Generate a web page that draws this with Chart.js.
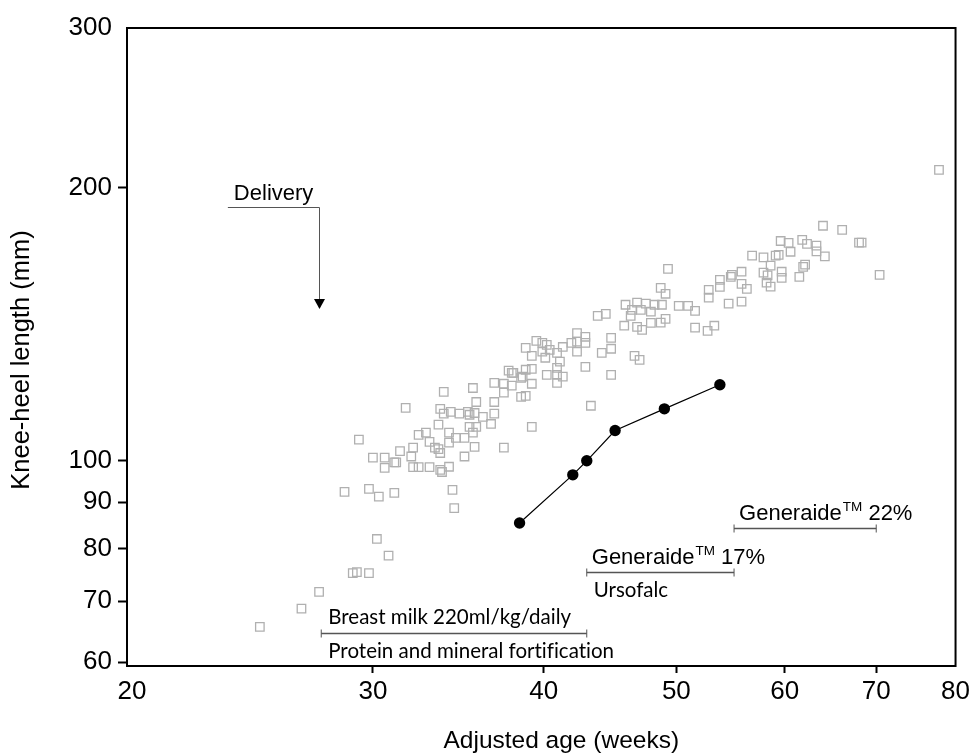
<!DOCTYPE html>
<html>
<head>
<meta charset="utf-8">
<script src="https://cdn.jsdelivr.net/npm/chart.js@4.4.0/dist/chart.umd.min.js"></script>
<style>
  html, body { margin: 0; padding: 0; background: #fff; }
  #wrap { width: 973px; height: 755px; }
</style>
</head>
<body>
<div id="wrap"><canvas id="kneeChart" width="973" height="755"></canvas></div>
<script>
// Axis ticks and titles
const xTickValues = [20, 30, 40, 50, 60, 70, 80];
const yTickValues = [60, 70, 80, 90, 100, 200, 300];
const xTitle = 'Adjusted age (weeks)';
const yTitle = 'Knee-heel length (mm)';

// Patient measurements (black dots)
const patientAge = [38.4, 42.0, 43.0, 45.1, 49.0, 53.8];
const patientLength = [85.4, 96.5, 100.0, 108.0, 114.1, 121.3];

// Reference population (grey squares)
const refAge = [
  24.8, 26.6, 27.4, 29.0, 29.2, 29.8, 30.8, 30.2, 28.6, 29.8,
  30.3, 31.1, 34.3, 34.4, 29.3, 31.7, 33.8, 35.5, 35.7, 30.0,
  30.6, 30.6, 31.1, 31.2, 31.4, 32.0, 32.1, 32.1, 32.4, 33.0,
  32.4, 32.8, 33.0, 33.3, 33.5, 33.6, 33.6, 33.7, 34.1, 33.5,
  33.6, 33.8, 34.2, 34.1, 34.1, 34.5, 35.0, 34.7, 35.2, 35.3,
  35.6, 35.3, 35.7, 35.5, 35.0, 35.6,
  36.1, 36.8, 36.6, 36.8, 36.8, 37.4, 37.4, 37.9, 37.7, 37.9,
  38.0, 37.4, 38.5, 38.8, 38.5, 38.6, 39.2, 38.8, 39.2, 39.2,
  38.8, 39.2, 39.5, 39.9, 39.9, 40.2, 40.4, 40.1, 40.2, 40.9,
  40.9, 41.3, 40.9, 41.1, 40.9, 41.3, 41.9, 42.3, 42.3, 42.3,
  42.9, 42.9, 42.9, 43.3, 43.8, 44.4, 44.1, 44.8, 44.8, 44.8,
  46.6, 47.0,
  77.8, 64.0, 66.1, 68.0, 68.3, 70.4, 59.6, 60.4, 61.8, 62.3,
  63.3, 63.3, 64.2, 56.8, 57.9, 59.1, 59.4, 60.6, 58.6, 57.9,
  58.3, 59.7, 59.7, 61.5, 61.9, 62.1, 58.2, 58.6, 55.8, 54.9,
  54.8, 53.8, 52.8, 52.8, 53.8, 55.8, 56.3, 54.6, 55.8, 51.6,
  51.6, 52.7, 53.3, 49.3, 48.7, 49.1, 48.8, 48.7, 50.2, 51.0,
  45.9, 46.4, 46.8, 47.1, 47.5, 47.9, 48.2, 46.3, 45.8, 46.8,
  47.2, 47.9, 49.1
];
const refLength = [
  65.6, 68.7, 71.7, 75.2, 75.4, 75.2, 78.6, 82.0, 92.4, 93.1,
  91.3, 92.2, 92.9, 88.7, 105.5, 114.4, 119.1, 120.3, 116.1, 100.8,
  100.8, 98.2, 99.6, 99.6, 102.5, 101.1, 103.4, 98.4, 98.4, 98.4,
  106.8, 107.4, 104.9, 103.4, 103.0, 102.0, 97.7, 97.2, 98.5, 109.6,
  114.1, 112.7, 113.2, 107.4, 104.7, 106.0, 106.0, 112.7, 113.2, 112.4,
  112.9, 109.0, 109.0, 107.4, 101.1, 103.6,
  111.8, 112.7, 109.8, 116.1, 121.9, 121.6, 118.9, 121.0, 125.7, 125.0,
  125.0, 103.4, 117.6, 117.9, 123.4, 123.8, 121.6, 126.0, 126.3, 109.0,
  133.2, 130.5, 135.6, 134.9, 131.9, 134.2, 132.5, 129.9, 124.4, 124.4,
  121.9, 123.8, 126.6, 128.6, 131.5, 133.5, 134.9, 138.3, 135.3, 131.9,
  137.0, 134.9, 126.9, 115.0, 144.5, 145.2, 131.5, 136.6, 132.9, 124.4,
  130.5, 129.2,
  209.3, 181.6, 179.7, 174.0, 174.0, 160.3, 174.7, 173.9, 175.2, 173.4,
  172.7, 170.2, 168.0, 168.3, 167.6, 168.3, 168.7, 170.0, 164.1, 161.2,
  160.1, 161.6, 159.1, 159.5, 163.6, 164.5, 157.2, 155.6, 161.6, 160.3,
  159.5, 158.3, 154.3, 151.3, 155.5, 156.7, 154.7, 149.0, 149.8, 146.3,
  140.2, 139.1, 140.9, 162.8, 155.1, 152.8, 148.6, 142.0, 148.2, 148.2,
  148.6, 146.7, 149.4, 146.7, 149.0, 146.0, 148.6, 144.5, 140.9, 140.5,
  139.4, 141.9, 143.4
];

// Feeding phases (bracket from start to end age, drawn at a length level)
const phaseStart = [27.5, 43.0, 55.1];
const phaseEnd = [43.0, 55.1, 70.0];
const phaseLevel = [64.6, 75.4, 84.4];
const phaseTop = ['Breast milk 220ml/kg/daily', 'Generaide', 'Generaide'];
const phaseTopSup = ['', 'TM', 'TM'];
const phaseTopTail = ['', ' 17%', ' 22%'];
const phaseBottom = ['Protein and mineral fortification', 'Ursofalc', ''];

// Delivery marker
const deliveryLabel = 'Delivery';
const deliveryFrom = 23.5;
const deliveryAge = 27.4;
const deliveryLevel = 190.5;
const deliveryTip = 147;

const arial = '"Liberation Sans", Arial, sans-serif';
const calibri = 'Lato, "Open Sans", sans-serif';

// Frame, axis titles, delivery arrow and feeding phase brackets
const annotations = {
  id: 'annotations',
  afterDraw(chart) {
    const { ctx, chartArea: area } = chart;
    const xs = chart.scales.x;
    const ys = chart.scales.y;
    ctx.save();
    ctx.textRendering = 'optimizeSpeed';

    ctx.strokeStyle = '#000';
    ctx.lineWidth = 2;
    ctx.strokeRect(area.left, area.top, area.right - area.left, area.bottom - area.top);

    // axis titles
    ctx.fillStyle = '#000';
    ctx.textBaseline = 'middle';
    ctx.textAlign = 'center';
    ctx.font = '24.5px ' + arial;
    ctx.fillText(xTitle, (area.left + area.right) / 2 + 20, 741);
    ctx.save();
    ctx.translate(22, (area.top + area.bottom) / 2 + 13);
    ctx.rotate(-Math.PI / 2);
    ctx.font = '25.5px ' + arial;
    ctx.fillText(yTitle, 0, 0);
    ctx.restore();
    ctx.textAlign = 'left';

    // Delivery
    const dx0 = xs.getPixelForValue(deliveryFrom);
    const dx = Math.round(xs.getPixelForValue(deliveryAge)) + 0.5;
    const dy = Math.round(ys.getPixelForValue(deliveryLevel)) + 0.5;
    const tip = ys.getPixelForValue(deliveryTip);
    ctx.strokeStyle = '#555';
    ctx.lineWidth = 1;
    ctx.beginPath();
    ctx.moveTo(dx0, dy);
    ctx.lineTo(dx, dy);
    ctx.lineTo(dx, tip - 8);
    ctx.stroke();
    ctx.beginPath();
    ctx.moveTo(dx - 5.5, tip - 10);
    ctx.lineTo(dx + 5.5, tip - 10);
    ctx.lineTo(dx, tip);
    ctx.closePath();
    ctx.fill();
    ctx.font = '22px ' + arial;
    ctx.fillText(deliveryLabel, dx0 + 6, dy - 14);

    // Phases
    phaseStart.forEach((start, i) => {
      const x0 = xs.getPixelForValue(start);
      const x1 = xs.getPixelForValue(phaseEnd[i]);
      const yl = Math.round(ys.getPixelForValue(phaseLevel[i])) + 0.5;

      ctx.strokeStyle = '#555';
      ctx.lineWidth = 1.5;
      ctx.beginPath();
      ctx.moveTo(x0, yl);
      ctx.lineTo(x1, yl);
      ctx.stroke();
      ctx.lineWidth = 1;
      ctx.beginPath();
      ctx.moveTo(x0, yl - 4);
      ctx.lineTo(x0, yl + 4);
      ctx.moveTo(x1, yl - 4);
      ctx.lineTo(x1, yl + 4);
      ctx.stroke();

      if (phaseTopSup[i]) {
        let tx = x0 + 5;
        ctx.font = '22px ' + arial;
        ctx.fillText(phaseTop[i], tx, yl - 15);
        tx += ctx.measureText(phaseTop[i]).width + 1;
        ctx.font = '13.5px ' + arial;
        ctx.fillText(phaseTopSup[i], tx, yl - 21);
        tx += ctx.measureText(phaseTopSup[i]).width;
        ctx.font = '22px ' + arial;
        ctx.fillText(phaseTopTail[i], tx, yl - 15);
      } else {
        ctx.font = '20.5px ' + calibri;
        ctx.fillText(phaseTop[i], x0 + 7, yl - 16);
      }
      if (phaseBottom[i]) {
        ctx.font = '20.5px ' + calibri;
        ctx.fillText(phaseBottom[i], x0 + 7, yl + 18);
      }
    });
    ctx.restore();
  }
};

const hideEnds = (values) => (c) =>
  c.tick && values.includes(c.tick.value) ? 'rgba(0,0,0,0)' : '#000';

new Chart(document.getElementById('kneeChart'), {
  type: 'scatter',
  data: {
    datasets: [
      {
        label: 'Patient',
        data: patientAge.map((a, i) => ({ x: a, y: patientLength[i] })),
        showLine: true,
        borderColor: '#000',
        borderWidth: 1.2,
        pointRadius: 5.7,
        pointBackgroundColor: '#000',
        pointBorderColor: '#000',
        pointBorderWidth: 0,
      },
      {
        label: 'Reference',
        data: refAge.map((a, i) => ({ x: a, y: refLength[i] })),
        pointStyle: 'rect',
        pointRadius: 6,
        pointBorderColor: '#b0b0b0',
        pointBorderWidth: 1.3,
        pointBackgroundColor: 'rgba(255,255,255,0)',
      },
    ],
  },
  options: {
    responsive: false,
    animation: false,
    layout: { padding: { top: 28, right: 17, bottom: 0, left: 0 } },
    plugins: {
      legend: { display: false },
      tooltip: { enabled: false },
    },
    scales: {
      x: {
        type: 'logarithmic',
        min: 19.83,
        max: 80,
        afterBuildTicks: (s) => { s.ticks = xTickValues.map((v) => ({ value: v })); },
        afterFit: (s) => { s.height = 89; },
        ticks: {
          autoSkip: false,
          maxRotation: 0,
          padding: 3,
          color: '#000',
          font: { family: arial, size: 26 },
          callback: (v) => String(v),
        },
        grid: {
          drawOnChartArea: false,
          tickLength: 7,
          tickWidth: 2,
          tickColor: hideEnds([20, 80]),
        },
        border: { color: '#000', width: 2 },
      },
      y: {
        type: 'logarithmic',
        min: 59.4,
        max: 300,
        afterBuildTicks: (s) => { s.ticks = yTickValues.map((v) => ({ value: v })); },
        afterFit: (s) => { s.width = 127; },
        ticks: {
          autoSkip: false,
          padding: 6,
          color: '#000',
          font: { family: arial, size: 26 },
          callback: (v) => String(v),
        },
        grid: {
          drawOnChartArea: false,
          tickLength: 9,
          tickWidth: 2,
          tickColor: hideEnds([300]),
        },
        border: { color: '#000', width: 2 },
      },
    },
  },
  plugins: [annotations],
});
</script>
</body>
</html>
